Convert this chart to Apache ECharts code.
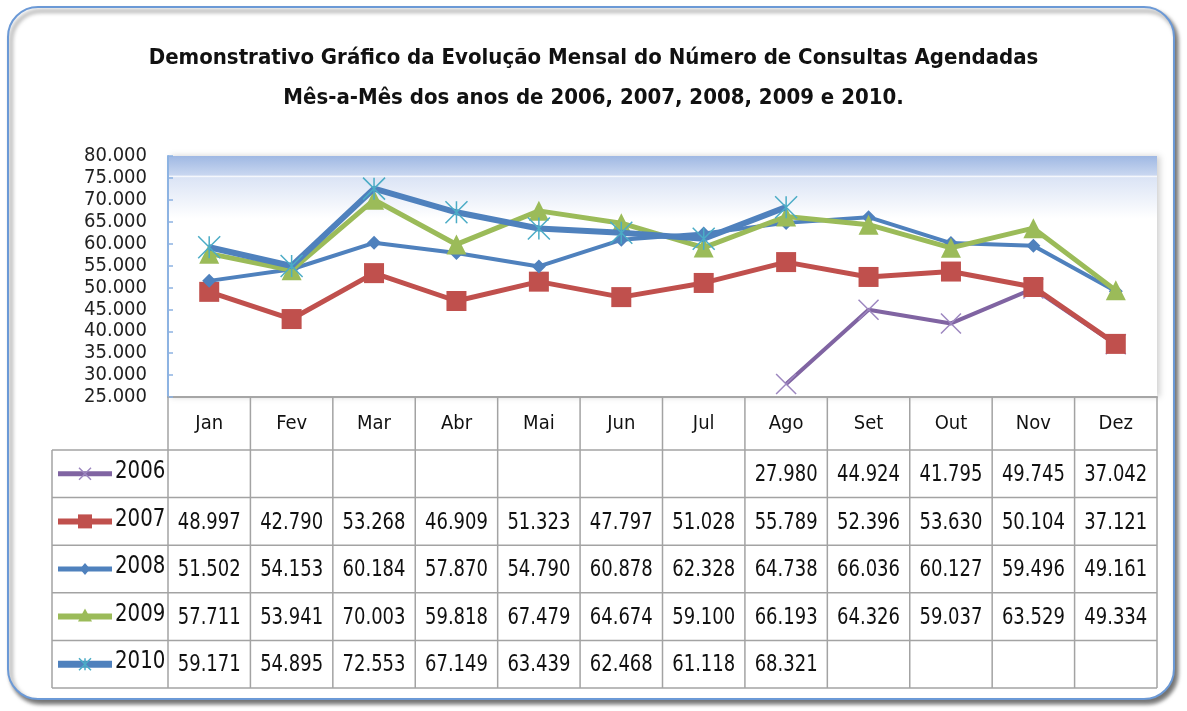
<!DOCTYPE html>
<html>
<head>
<meta charset="utf-8">
<script src="https://cdn.jsdelivr.net/npm/echarts@6/dist/echarts.min.js"></script>
<style>
  html, body { margin: 0; padding: 0; background: #fff; }
  #chart { width: 1187px; height: 711px; }
</style>
</head>
<body>
<div id="chart"></div>
<script>
// dados mes a mes
const months = ['Jan', 'Fev', 'Mar', 'Abr', 'Mai', 'Jun', 'Jul', 'Ago', 'Set', 'Out', 'Nov', 'Dez']
const years = ['2006', '2007', '2008', '2009', '2010']
const data2006 = [null, null, null, null, null, null, null, 27980, 44924, 41795, 49745, 37042]
const data2007 = [48997, 42790, 53268, 46909, 51323, 47797, 51028, 55789, 52396, 53630, 50104, 37121]
const data2008 = [51502, 54153, 60184, 57870, 54790, 60878, 62328, 64738, 66036, 60127, 59496, 49161]
const data2009 = [57711, 53941, 70003, 59818, 67479, 64674, 59100, 66193, 64326, 59037, 63529, 49334]
const data2010 = [59171, 54895, 72553, 67149, 63439, 62468, 61118, 68321, null, null, null, null]
const yTicks = { min: 25000, max: 80000, interval: 5000 }

const FONT = "'DejaVu Sans Condensed', 'Liberation Sans Narrow', 'Liberation Sans', sans-serif"
const fmt = v => (v == null ? '' : (v / 1000).toFixed(3))

const X_PATH = 'path://M0,0L10,10M10,0L0,10'
const STAR_PATH = 'path://M0,0L10,10M10,0L0,10M5,0L5,10'

const styles = [
  { line: '#8064a2', width: 4, symbol: X_PATH, size: 20, mk: '#9d87c0', stroke: true },
  { line: '#c0504d', width: 5, symbol: 'rect', size: 20, mk: '#c0504d' },
  { line: '#4f81bd', width: 4, symbol: 'diamond', size: 14, mk: '#4f81bd' },
  { line: '#9bbb59', width: 5, symbol: 'triangle', size: 20, mk: '#9bbb59' },
  { line: '#4f81bd', width: 6, symbol: STAR_PATH, size: 22, mk: '#4bacc6', stroke: true }
]
const allData = [data2006, data2007, data2008, data2009, data2010]

const chart = echarts.init(document.getElementById('chart'))

chart.setOption({
  animation: false,
  title: {
    text: 'Demonstrativo Gráfico da Evolução Mensal do Número de Consultas Agendadas\nMês-a-Mês dos anos de 2006, 2007, 2008, 2009 e 2010.',
    left: 'center',
    top: 33,
    textStyle: { fontFamily: FONT, fontSize: 22, fontWeight: 'bold', color: '#111', lineHeight: 40 }
  },
  grid: {
    left: 168, right: 30, top: 156, bottom: 314,
    show: true,
    borderWidth: 0,
    shadowBlur: 6, shadowColor: 'rgba(0,0,0,0.18)', shadowOffsetX: 3,
    backgroundColor: new echarts.graphic.LinearGradient(0, 0, 0, 1, [
      { offset: 0, color: '#9fb8e3' },
      { offset: 0.08, color: '#c9d7f0' },
      { offset: 0.083, color: '#ffffff' },
      { offset: 0.09, color: '#dbe4f5' },
      { offset: 0.26, color: '#ffffff' },
      { offset: 1, color: '#ffffff' }
    ])
  },
  xAxis: {
    type: 'category',
    data: months,
    boundaryGap: true,
    axisLine: { lineStyle: { color: '#a6a6a6', width: 2 } },
    axisTick: { show: false },
    axisLabel: { fontFamily: FONT, fontSize: 20, color: '#111', margin: 17 }
  },
  yAxis: {
    type: 'value',
    min: yTicks.min, max: yTicks.max, interval: yTicks.interval,
    axisLine: { show: true, lineStyle: { color: '#8db3e2', width: 2 } },
    axisTick: { show: true, inside: true, length: 5, lineStyle: { color: '#8db3e2', width: 1.5 } },
    splitLine: { show: false },
    axisLabel: { fontFamily: FONT, fontSize: 20, color: '#222', margin: 21, formatter: v => fmt(v) }
  },
  series: allData.map((d, i) => ({
    name: years[i],
    type: 'line',
    data: d,
    z: 2 + i,
    symbol: styles[i].symbol,
    symbolSize: styles[i].size,
    showAllSymbol: true,
    connectNulls: false,
    lineStyle: { color: styles[i].line, width: styles[i].width },
    itemStyle: styles[i].stroke
      ? { color: 'rgba(0,0,0,0)', borderColor: styles[i].mk, borderWidth: 1.5 }
      : { color: styles[i].mk }
  }))
})

// tabela de dados abaixo do grafico
function buildTable() {
  const x0 = chart.convertToPixel({ xAxisIndex: 0 }, months[0])
  const x1 = chart.convertToPixel({ xAxisIndex: 0 }, months[1])
  const band = x1 - x0
  const left = x0 - band / 2
  const right = left + band * months.length
  const top = chart.convertToPixel({ yAxisIndex: 0 }, yTicks.min)
  const headerH = 53
  const rowH = 47.6
  const tableLeft = 52
  const bodyTop = top + headerH
  const bottom = bodyTop + rowH * years.length
  const grey = '#a3a3a3'
  const els = []

  const line = (xa, ya, xb, yb, color, w, z) => els.push({
    type: 'line', z: z || 10, silent: true,
    shape: { x1: xa, y1: ya, x2: xb, y2: yb },
    style: { stroke: color || grey, lineWidth: w || 1.5 }
  })

  for (let c = 0; c <= months.length; c++) line(left + c * band, top, left + c * band, bottom)
  line(tableLeft, bodyTop, tableLeft, bottom)
  for (let r = 0; r <= years.length; r++) line(tableLeft, bodyTop + r * rowH, right, bodyTop + r * rowH)

  years.forEach((yr, r) => {
    const cy = bodyTop + r * rowH + rowH / 2
    allData[r].forEach((v, c) => {
      if (v == null) return
      els.push({
        type: 'text', z: 11, silent: true,
        x: left + c * band + band / 2, y: cy + 1, scaleY: 1.18,
        style: {
          text: fmt(v), x: 0, y: 0,
          textAlign: 'center', textVerticalAlign: 'middle',
          font: '20px ' + FONT, fill: '#111'
        }
      })
    })
    // legenda: linha + marcador + ano
    const st = styles[r]
    const mx = 85
    line(58, cy, 112, cy, st.line, st.width + 1, 11)
    if (st.symbol === 'rect') {
      els.push({ type: 'rect', z: 12, silent: true, shape: { x: mx - 7, y: cy - 7, width: 14, height: 14 }, style: { fill: st.mk } })
    } else if (st.symbol === 'diamond') {
      els.push({ type: 'polygon', z: 12, silent: true, shape: { points: [[mx, cy - 6], [mx + 5, cy], [mx, cy + 6], [mx - 5, cy]] }, style: { fill: st.mk } })
    } else if (st.symbol === 'triangle') {
      els.push({ type: 'polygon', z: 12, silent: true, shape: { points: [[mx, cy - 8], [mx + 7, cy + 5], [mx - 7, cy + 5]] }, style: { fill: st.mk } })
    } else {
      const d = 6
      line(mx - d, cy - d, mx + d, cy + d, st.mk, 1.5, 12)
      line(mx + d, cy - d, mx - d, cy + d, st.mk, 1.5, 12)
      if (st.symbol === STAR_PATH) line(mx, cy - d, mx, cy + d, st.mk, 1.5, 12)
    }
    els.push({
      type: 'text', z: 12, silent: true,
      x: 115, y: cy - 2, scaleY: 1.1,
      style: {
        text: yr, x: 0, y: 0, textAlign: 'left', textVerticalAlign: 'middle',
        font: '22px ' + FONT, fill: '#111'
      }
    })
  })

  // moldura arredondada
  els.push({
    type: 'rect', z: -100, silent: true,
    shape: { x: 8, y: 7, width: 1166, height: 692, r: 30 },
    style: {
      fill: '#fff', stroke: '#6b99d6', lineWidth: 2,
      shadowBlur: 4, shadowOffsetX: 3, shadowOffsetY: 4, shadowColor: 'rgba(0,0,0,0.55)'
    }
  })

  chart.setOption({ graphic: { elements: els } })
}
buildTable()
</script>
</body>
</html>
